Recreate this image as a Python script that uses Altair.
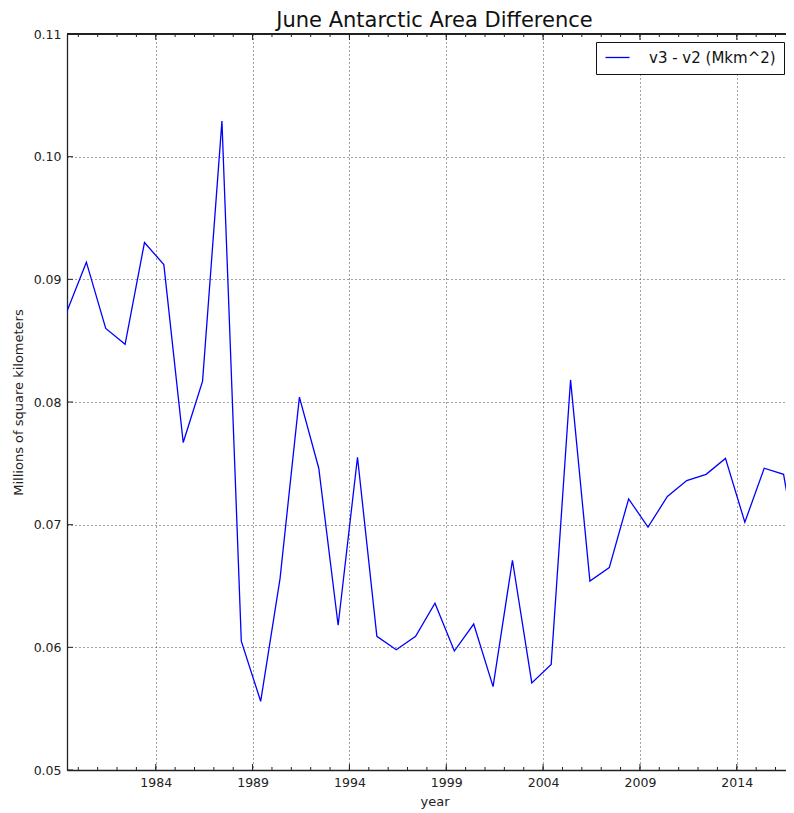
import altair as alt
import pandas as pd

years = list(range(1979, 2018))
values = [0.0874, 0.0914, 0.0860, 0.0847, 0.0930, 0.0912, 0.0767, 0.0817, 0.1029, 0.0605,
          0.0556, 0.0656, 0.0804, 0.0746, 0.0618, 0.0755, 0.0609, 0.0598, 0.0609, 0.0636,
          0.0597, 0.0619, 0.0568, 0.0671, 0.0571, 0.0586, 0.0818, 0.0654, 0.0665, 0.0721,
          0.0698, 0.0723, 0.0736, 0.0741, 0.0754, 0.0702, 0.0746, 0.0741, 0.0651]
series_name = "v3 - v2 (Mkm^2)"
x_major = [1984, 1989, 1994, 1999, 2004, 2009, 2014]
x_minor = list(range(1980, 2017))
y_major = [0.05, 0.06, 0.07, 0.08, 0.09, 0.10, 0.11]

W, H = 719, 736
PX_PER_YEAR = 19.367
FONT = "DejaVu Sans"

x0 = 1979 + 5 / 12
df = pd.DataFrame({"x": [y + 5 / 12 for y in years], "v": values, "s": series_name})
xscale = alt.Scale(domain=[x0, x0 + W / PX_PER_YEAR], nice=False, zero=False)
yscale = alt.Scale(domain=[0.05, 0.11], nice=False, zero=False)

line = alt.Chart(df).mark_line(color="#0000ff", strokeWidth=1.3, clip=True).encode(
    x=alt.X("x:Q", scale=xscale, axis=alt.Axis(
        values=x_major, format="d", title="year", ticks=False, labelPadding=6,
        grid=True, gridColor="#444", gridDash=[1, 3], gridWidth=1,
        domainColor="#222", domainWidth=1.3, labelFontSize=12.5, labelFont=FONT,
        labelColor="#222", titleFont=FONT, titleFontSize=13, titleFontWeight="normal",
        titleColor="#222", titleX=367.5, titleY=35, titleBaseline="alphabetic")),
    y=alt.Y("v:Q", scale=yscale, axis=alt.Axis(
        values=y_major, format=".2f", title="Millions of square kilometers", ticks=False,
        labelPadding=6, grid=True, gridColor="#444", gridDash=[1, 3], gridWidth=1,
        domainColor="#222", domainWidth=1.3, labelFontSize=12.5, labelFont=FONT,
        labelColor="#222", titleFont=FONT, titleFontSize=13, titleFontWeight="normal",
        titleColor="#222", titleX=-49, titleY=H / 2, titleAngle=270,
        titleAlign="center", titleBaseline="middle")),
    color=alt.Color("s:N", scale=alt.Scale(range=["#0000ff"]), legend=alt.Legend(
        title=None, orient="none", legendX=529, legendY=8, symbolType="M-1,0L3,0",
        symbolSize=144, symbolStrokeWidth=1.3, labelFontSize=15, labelFont=FONT,
        labelColor="#111", labelOffset=30, padding=8, strokeColor="#111",
        fillColor="white", cornerRadius=0)),
)

mj = pd.DataFrame({"x": x_major})
mn = pd.DataFrame({"x": x_minor})
yt = pd.DataFrame({"v": y_major})

tick_style = dict(color="#222", strokeWidth=1)
top_major = alt.Chart(mj).mark_rule(**tick_style).encode(x=alt.X("x:Q", scale=xscale), y=alt.value(0), y2=alt.value(6))
bot_major = alt.Chart(mj).mark_rule(**tick_style).encode(x=alt.X("x:Q", scale=xscale), y=alt.value(H), y2=alt.value(H - 6))
top_minor = alt.Chart(mn).mark_rule(**tick_style).encode(x=alt.X("x:Q", scale=xscale), y=alt.value(0), y2=alt.value(3))
bot_minor = alt.Chart(mn).mark_rule(**tick_style).encode(x=alt.X("x:Q", scale=xscale), y=alt.value(H), y2=alt.value(H - 3))
left_major = alt.Chart(yt).mark_rule(**tick_style).encode(y=alt.Y("v:Q", scale=yscale), x=alt.value(0), x2=alt.value(6))
top_spine = alt.Chart(mj).mark_rule(color="#222", strokeWidth=1.3).encode(
    x=alt.value(0), x2=alt.value(W), y=alt.value(0))

chart = alt.layer(line, top_major, bot_major, top_minor, bot_minor, left_major, top_spine).properties(
    width=W, height=H,
    title=alt.TitleParams("June Antarctic Area Difference", font=FONT, fontSize=21,
                          fontWeight="normal", color="#111", dx=8, dy=9, offset=6),
    autosize=alt.AutoSizeParams(type="none"),
    padding={"left": 59, "top": 26, "right": 0, "bottom": 42},
).configure_view(stroke=None).configure(background="white")

chart.save("out.html", embed_options={"renderer": "svg", "actions": False})
